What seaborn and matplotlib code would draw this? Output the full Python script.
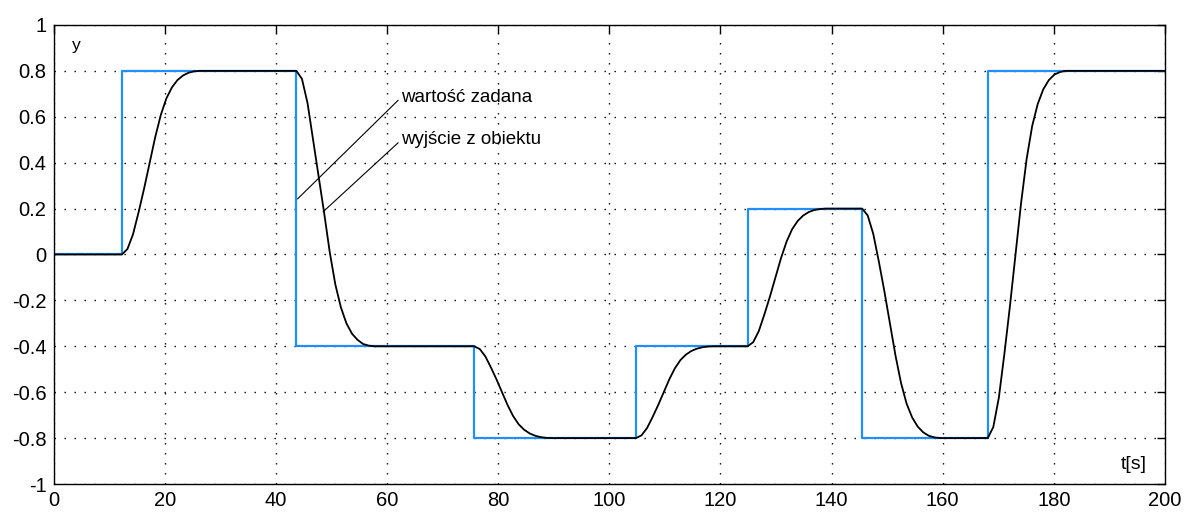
import matplotlib
matplotlib.use("Agg")
import matplotlib.pyplot as plt
import seaborn as sns
import numpy as np

sns.set_style("white")
plt.rcParams['font.family'] = ['Liberation Sans', 'DejaVu Sans']
plt.rcParams['text.color'] = 'black'

# setpoint (wartość zadana) - step changes
set_t = [0, 12.3, 43.7, 75.7, 104.8, 124.9, 145.5, 168.1, 200]
set_y = [0, 0.8, -0.4, -0.8, -0.4, 0.2, -0.8, 0.8, 0.8]

# plant output (wyjście z obiektu)
resp_t = [0,
          12.3, 13.3, 14.3, 15.3, 16.3, 17.3, 18.3, 19.3, 20.3, 21.3, 22.3, 23.3, 24.3, 25.3, 26.3,
          43.7, 44.7, 45.7, 46.7, 47.7, 48.7, 49.7, 50.7, 51.7, 52.7, 53.7, 54.7, 55.7, 56.7, 57.7,
          75.7, 76.7, 77.7, 78.7, 79.7, 80.7, 81.7, 82.7, 83.7, 84.7, 85.7, 86.7, 87.7, 88.7, 89.7,
          104.8, 105.8, 106.8, 107.8, 108.8, 109.8, 110.8, 111.8, 112.8, 113.8, 114.8, 115.8, 116.8, 117.8, 118.8,
          124.9, 125.9, 126.9, 127.9, 128.9, 129.9, 130.9, 131.9, 132.9, 133.9, 134.9, 135.9, 136.9, 137.9, 138.9,
          145.5, 146.5, 147.5, 148.5, 149.5, 150.5, 151.5, 152.5, 153.5, 154.5, 155.5, 156.5, 157.5, 158.5, 159.5,
          168.1, 169.1, 170.1, 171.1, 172.1, 173.1, 174.1, 175.1, 176.1, 177.1, 178.1, 179.1, 180.1, 181.1, 182.1,
          200]
resp_y = [0,
          0, 0.024, 0.088, 0.184, 0.288, 0.40, 0.512, 0.608, 0.68, 0.728, 0.76, 0.78, 0.792, 0.798, 0.8,
          0.8, 0.765, 0.66, 0.50, 0.34, 0.18, 0.01, -0.13, -0.23, -0.30, -0.345, -0.372, -0.39, -0.397, -0.4,
          -0.4, -0.412, -0.444, -0.492, -0.544, -0.60, -0.656, -0.704, -0.74, -0.764, -0.78, -0.79, -0.796, -0.799, -0.8,
          -0.8, -0.788, -0.756, -0.708, -0.656, -0.60, -0.544, -0.496, -0.46, -0.436, -0.42, -0.41, -0.404, -0.401, -0.4,
          -0.4, -0.382, -0.334, -0.262, -0.184, -0.10, -0.016, 0.056, 0.11, 0.146, 0.17, 0.185, 0.194, 0.198, 0.2,
          0.2, 0.17, 0.09, -0.03, -0.16, -0.30, -0.44, -0.56, -0.65, -0.71, -0.75, -0.775, -0.79, -0.797, -0.8,
          -0.8, -0.752, -0.624, -0.432, -0.224, 0, 0.224, 0.416, 0.56, 0.656, 0.72, 0.76, 0.784, 0.795, 0.8,
          0.8]

x_ticks = list(range(0, 201, 20))
y_ticks = [-1, -0.8, -0.6, -0.4, -0.2, 0, 0.2, 0.4, 0.6, 0.8, 1]
y_labels = ['-1', '-0.8', '-0.6', '-0.4', '-0.2', '0', '0.2', '0.4', '0.6', '0.8', '1']

fig = plt.figure(figsize=(11.9, 5.16), dpi=100)
ax = fig.add_axes([0.045, 0.062, 0.934, 0.8896])

sns.lineplot(x=set_t, y=set_y, drawstyle='steps-post', color='#1f8fff',
             lw=1.6, estimator=None, sort=False, ax=ax)
sns.lineplot(x=resp_t, y=resp_y, color='black', lw=1.3,
             estimator=None, sort=False, ax=ax)

ax.set_xlim(0, 200)
ax.set_ylim(-1, 1)
ax.set_xticks(x_ticks)
ax.set_xticklabels([str(v) for v in x_ticks])
ax.set_yticks(y_ticks)
ax.set_yticklabels(y_labels)
ax.tick_params(direction='in', length=6, width=1, top=True, right=True,
               labelsize=14.5, colors='black', pad=5)
ax.grid(True, color='black', lw=1.0, linestyle=(0, (1, 6.2)))
for s in ax.spines.values():
    s.set_color('black')
    s.set_linewidth(1)
ax.set_xlabel('')
ax.set_ylabel('')

ax.text(3.3, 0.91, 'y', fontsize=12.5, va='center', ha='left')
ax.text(192, -0.915, 't[s]', fontsize=14, va='center', ha='left')

ax.annotate('wartość zadana', xy=(43.9, 0.242), xytext=(62.6, 0.686),
            fontsize=13.5, va='center', ha='left',
            arrowprops=dict(arrowstyle='-', lw=0.8, color='black',
                            shrinkA=0, shrinkB=0, relpos=(0, 0.5)))
ax.annotate('wyjście z obiektu', xy=(48.5, 0.186), xytext=(62.6, 0.50),
            fontsize=13.5, va='center', ha='left',
            arrowprops=dict(arrowstyle='-', lw=0.8, color='black',
                            shrinkA=0, shrinkB=0, relpos=(0, 0.5)))

fig.savefig('out.png', dpi=100, facecolor='white')
